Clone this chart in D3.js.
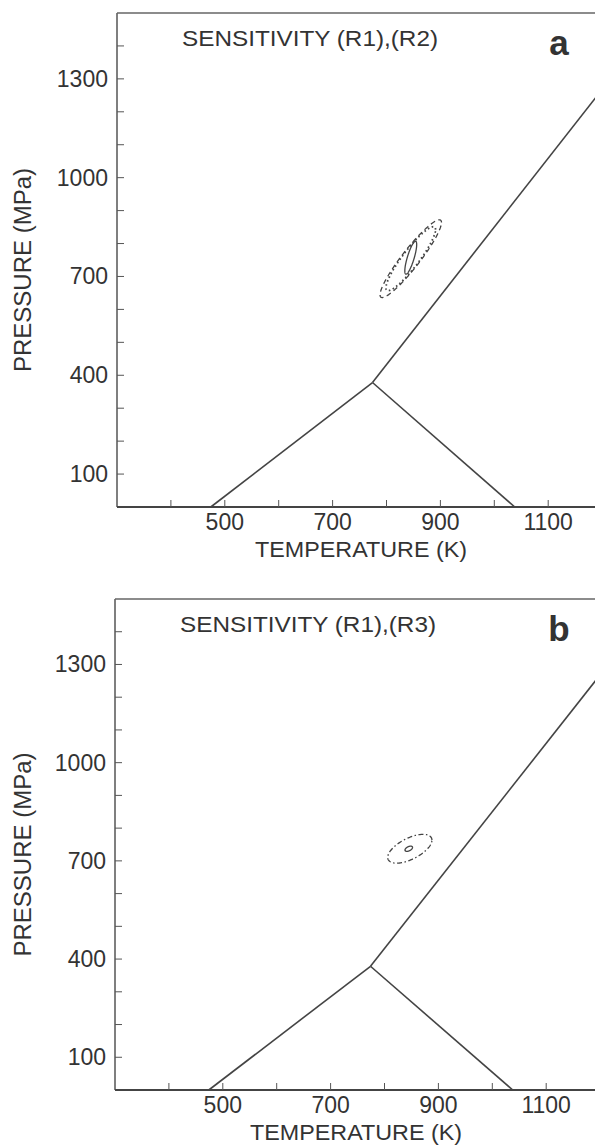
<!DOCTYPE html>
<html>
<head>
<meta charset="utf-8">
<title>Sensitivity</title>
<script src="https://d3js.org/d3.v7.min.js"></script>
<style>
  body { margin: 0; background: #fff; }
  text { font-family: "Liberation Sans", Arial, sans-serif; fill: #333; }
</style>
</head>
<body>
<svg id="mainsvg" width="595" height="1145"></svg>
<script>
// ---------- data ----------
const tempDomain = [300, 1200];
const pressDomain = [0, 1500];
const tempTicks = [400, 500, 600, 700, 800, 900, 1000, 1100, 1200];
const tempLabels = [500, 700, 900, 1100];
const pressTicks = [100, 200, 300, 400, 500, 600, 700, 800, 900, 1000, 1100, 1200, 1300, 1400];
const pressLabels = [100, 400, 700, 1000, 1300];

// phase boundaries (T in K, P in MPa)
const boundaryLeft = [[474, 0], [774, 378]];
const boundaryRight = [[774, 378], [1038, 0]];
const boundaryUpper = [[774, 378], [1200, 1268]];

// confidence ellipses: centre T, P, half-range T, P, correlation
const ellipsesA = [
  {cT: 845, cP: 754, sT: 57, sP: 118, rho: 0.93, style: "dash"},
  {cT: 845, cP: 754, sT: 46, sP: 97, rho: 0.91, style: "dot"},
  {cT: 845, cP: 757, sT: 11, sP: 50, rho: 0.8, style: "solid"}
];
const ellipsesB = [
  {cT: 847, cP: 737, sT: 41, sP: 44, rho: 0.6, style: "dashdot"},
  {cT: 845, cP: 737, sT: 7, sP: 8, rho: 0.5, style: "solid"}
];

const titles = ["SENSITIVITY (R1),(R2)", "SENSITIVITY (R1),(R3)"];
const letters = ["a", "b"];

// ---------- layout ----------
const svg = d3.select("#mainsvg");
const panels = [
  {left: 117, top: 13, bottom: 507, ellipses: ellipsesA},
  {left: 115, top: 599, bottom: 1090, ellipses: ellipsesB}
];
const pxPerK = 0.539;
const dashes = {dash: "5,3.5", dot: "1.6,2.6", solid: null, dashdot: "5,2.5,1.5,2.5"};

panels.forEach((p, i) => {
  const x = d3.scaleLinear().domain(tempDomain)
    .range([p.left, p.left + (tempDomain[1] - tempDomain[0]) * pxPerK]);
  const y = d3.scaleLinear().domain(pressDomain).range([p.bottom, p.top]);
  const g = svg.append("g");

  // frame: left, bottom, top
  g.append("line").attr("x1", p.left).attr("x2", p.left)
    .attr("y1", p.top).attr("y2", p.bottom)
    .attr("stroke", "#555").attr("stroke-width", 1.5);
  g.append("line").attr("x1", p.left).attr("x2", 600)
    .attr("y1", p.bottom).attr("y2", p.bottom)
    .attr("stroke", "#444").attr("stroke-width", 1.8);
  g.append("line").attr("x1", p.left).attr("x2", 600)
    .attr("y1", p.top).attr("y2", p.top)
    .attr("stroke", "#666").attr("stroke-width", 1.3);

  // inward ticks
  g.selectAll(".xt").data(tempTicks).join("line")
    .attr("x1", d => x(d)).attr("x2", d => x(d))
    .attr("y1", p.bottom).attr("y2", p.bottom - 7)
    .attr("stroke", "#555").attr("stroke-width", 1);
  g.selectAll(".yt").data(pressTicks).join("line")
    .attr("x1", p.left).attr("x2", p.left + 7)
    .attr("y1", d => y(d)).attr("y2", d => y(d))
    .attr("stroke", "#555").attr("stroke-width", 1);

  // tick labels
  g.selectAll(".xl").data(tempLabels).join("text")
    .attr("x", d => x(d)).attr("y", p.bottom + 23)
    .attr("text-anchor", "middle").attr("font-size", 23)
    .text(d => d);
  g.selectAll(".yl").data(pressLabels).join("text")
    .attr("x", p.left - 9).attr("y", d => y(d) + 8)
    .attr("text-anchor", "end").attr("font-size", 23)
    .text(d => d);

  // axis titles
  g.append("text")
    .attr("x", p.left + 244 - (i ? 3 : 0)).attr("y", p.bottom + 50)
    .attr("text-anchor", "middle").attr("font-size", 22)
    .attr("textLength", 212).attr("lengthAdjust", "spacingAndGlyphs")
    .text("TEMPERATURE (K)");
  const midY = (p.top + p.bottom) / 2 + 10;
  g.append("text")
    .attr("transform", `translate(31,${midY}) rotate(-90)`)
    .attr("text-anchor", "middle").attr("font-size", 23)
    .attr("textLength", 204).attr("lengthAdjust", "spacingAndGlyphs")
    .text("PRESSURE (MPa)");

  // panel title and letter
  g.append("text")
    .attr("x", p.left + 65).attr("y", p.top + 33)
    .attr("font-size", 22)
    .attr("textLength", 256).attr("lengthAdjust", "spacingAndGlyphs")
    .text(titles[i]);
  g.append("text")
    .attr("x", 559).attr("y", p.top + 42)
    .attr("text-anchor", "middle").attr("font-size", 35).attr("font-weight", "bold")
    .text(letters[i]);

  // phase boundaries
  const line = d3.line().x(d => x(d[0])).y(d => y(d[1]));
  [boundaryLeft, boundaryRight, boundaryUpper].forEach(b => {
    g.append("path").attr("d", line(b))
      .attr("fill", "none").attr("stroke", "#444").attr("stroke-width", 1.6);
  });

  // ellipses
  const angles = d3.range(0, 2 * Math.PI + 0.01, Math.PI / 90);
  p.ellipses.forEach(e => {
    const delta = Math.acos(e.rho);
    const pts = angles.map(t => [e.cT + e.sT * Math.cos(t), e.cP + e.sP * Math.cos(t - delta)]);
    g.append("path").attr("d", line(pts))
      .attr("fill", "none").attr("stroke", "#444")
      .attr("stroke-width", e.style === "dot" ? 1.8 : 1.3)
      .attr("stroke-dasharray", dashes[e.style]);
  });
});
</script>
</body>
</html>
